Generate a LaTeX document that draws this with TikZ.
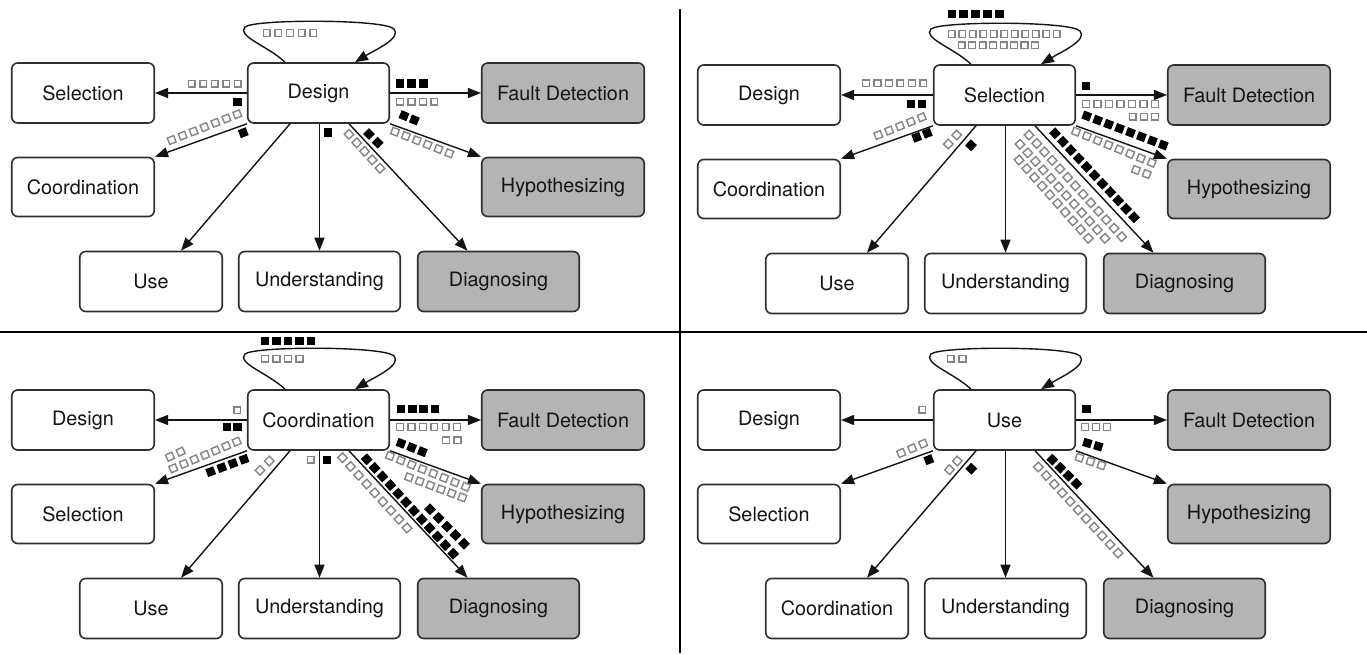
\documentclass[tikz,border=0pt]{standalone}
\usepackage{fontspec}
\setmainfont{TeX Gyre Heros}
\usetikzlibrary{arrows.meta}
\definecolor{boxgray}{HTML}{B4B4B4}
\definecolor{boxline}{HTML}{2E2E2E}
\definecolor{sqgray}{HTML}{858585}
\definecolor{txt}{HTML}{141414}
\tikzset{
 box/.style={draw=boxline, line width=1.6pt, rounded corners=6pt, fill=white, minimum height=60pt, inner sep=0pt, text=txt, font=\fontsize{19.8}{23}\selectfont},
 gbox/.style={box, fill=boxgray},
 arr/.style={line width=1.4pt, draw=txt, -{Triangle[length=13pt,width=10pt]}},
 hsq/.style={draw=sqgray, line width=1.4pt, scale=3.4},
 fsq/.style={fill=black, scale=4.2},
 divider/.style={line width=2pt, draw=black},
}
\newcommand\sqrow[6]{%
  \pgfmathsetmacro\sqang{atan2(-(#5-#3),#4-#2)}%
  \foreach \i in {1,...,#6}{%
    \pgfmathsetmacro\sqx{#2+(#4-#2)*(\i-1)/(#6-1)}%
    \pgfmathsetmacro\sqy{#3+(#5-#3)*(\i-1)/(#6-1)}%
    \path[shift={(\sqx,\sqy)},rotate=\sqang,#1] (-1,-1) rectangle (1,1);
  }}
\newcommand\sqone[4]{%
  \path[shift={(#2,#3)},rotate=#4,#1] (-1,-1) rectangle (1,1);}
\newcommand\drawpanel[7]{%
\begin{scope}[shift={(#2,#3)}]
 \node[box,minimum width=141.5pt] (#1c) at (318.5,93) {#4};
 \node[box,minimum width=142.5pt] (#1l1) at (83,93) {#5};
 \node[box,minimum width=142.5pt,minimum height=59pt] (#1l2) at (83,187) {#6};
 \node[box,minimum width=142.5pt] (#1b1) at (151,281.5) {#7};
 \node[box,minimum width=161.5pt] (#1b2) at (319.5,281.5) {Understanding};
 \node[gbox,minimum width=161.5pt] (#1b3) at (498.5,281.5) {Diagnosing};
 \node[gbox,minimum width=162.5pt] (#1r1) at (563,93) {Fault Detection};
 \node[gbox,minimum width=162.5pt,minimum height=59pt] (#1r2) at (563,187) {Hypothesizing};
 \draw[arr] (#1c.west) -- (#1l1.east);
 \draw[arr] (#1c.south west) -- (#1l2.north east);
 \draw[arr] ([xshift=-28.5pt]#1c.south) -- ([xshift=30pt]#1b1.north);
 \draw[arr] ([xshift=1pt]#1c.south) -- (#1b2.north);
 \draw[arr] ([xshift=30.5pt]#1c.south) -- ([xshift=-31pt]#1b3.north);
 \draw[arr] (#1c.south east) -- (#1r2.north west);
 \draw[arr] (#1c.east) -- (#1r1.west);
 \draw[arr] ([xshift=-33.5pt]#1c.north) .. controls (268,46) and (236,36) .. (245,27) .. controls (254,19) and (385,19) .. (394,29) .. controls (402,38) and (375,50) .. ([xshift=36.5pt]#1c.north);
\end{scope}}
\begin{document}
\begin{tikzpicture}[x=1pt,y=-1pt]
\fill[white] (0,0) rectangle (1367,653);
\useasboundingbox (0,0) rectangle (1367,653);
\drawpanel{a}{0}{0}{Design}{Selection}{Coordination}{Use}
\drawpanel{b}{686}{2}{Selection}{Design}{Coordination}{Use}
\drawpanel{c}{0}{327}{Coordination}{Design}{Selection}{Use}
\drawpanel{d}{686}{327}{Use}{Design}{Selection}{Coordination}
% TL markers
\sqrow{hsq}{266.7}{33}{313.3}{33}{5}
\sqrow{hsq}{191.7}{83.7}{237.7}{83.7}{5}
\sqone{fsq}{237.3}{101.7}{0}
\sqrow{hsq}{171.7}{140}{237.3}{114.3}{7}
\sqone{fsq}{243.3}{132.7}{21}
\sqone{fsq}{327.7}{132.3}{0}
\sqrow{hsq}{349}{134.3}{380}{168.3}{5}
\sqrow{fsq}{369}{134}{377.7}{142.7}{2}
\sqrow{fsq}{404}{115.7}{414.3}{120}{2}
\sqrow{hsq}{395}{131.7}{449.3}{153.3}{6}
\sqrow{fsq}{400}{83.3}{423.3}{83.3}{3}
\sqrow{hsq}{400}{101.7}{434.3}{101.7}{4}
% TR markers
\sqrow{fsq}{951.7}{14}{999.3}{14}{5}
\sqrow{hsq}{951.7}{34}{1056.7}{34}{11}
\sqrow{hsq}{961.7}{45.3}{1035}{45.3}{8}
\sqrow{hsq}{866}{83.3}{923.3}{83.3}{6}
\sqrow{fsq}{910.7}{104}{922}{104}{2}
\sqrow{hsq}{878.3}{135}{921.7}{117.3}{5}
\sqrow{fsq}{916.7}{137.3}{927.3}{133.3}{2}
\sqrow{hsq}{948.3}{144}{956.7}{135}{2}
\sqone{fsq}{971}{145.3}{47}
\sqrow{hsq}{1029}{135}{1121.7}{236.7}{13}
\sqrow{hsq}{1020}{144.3}{1105}{238.3}{12}
\sqrow{hsq}{1019}{160}{1088.3}{238.3}{10}
\sqrow{fsq}{1055}{133.3}{1134}{217.3}{11}
\sqrow{fsq}{1086.7}{116}{1163.3}{145}{8}
\sqrow{hsq}{1076}{131.7}{1151.7}{162.7}{8}
\sqrow{hsq}{1136}{170}{1146.7}{174}{2}
\sqone{fsq}{1086}{86}{0}
\sqrow{hsq}{1086}{104}{1155}{104}{7}
\sqrow{hsq}{1132.7}{116.7}{1155}{116.7}{3}
% BL markers
\sqrow{fsq}{265}{341}{311}{341}{5}
\sqrow{hsq}{265}{358.7}{299.5}{358.7}{4}
\sqone{hsq}{237.3}{410.3}{0}
\sqrow{fsq}{226.7}{427}{237.3}{427}{2}
\sqrow{hsq}{173.3}{468.3}{236.7}{441.7}{7}
\sqrow{hsq}{170}{456.7}{180.7}{451.7}{2}
\sqrow{fsq}{210.7}{471.7}{244}{459.3}{4}
\sqrow{hsq}{260}{470.3}{269.3}{461}{2}
\sqone{hsq}{310.7}{459.7}{0}
\sqone{fsq}{326.7}{459.7}{0}
\sqrow{hsq}{342.5}{457.7}{407}{528}{9}
\sqrow{fsq}{366.7}{459.3}{453.2}{553.7}{12}
\sqrow{fsq}{430}{509.3}{464}{543.7}{5}
\sqrow{fsq}{401}{443.3}{422.3}{451.7}{3}
\sqrow{hsq}{390}{456}{465.7}{486.7}{8}
\sqrow{hsq}{409}{477.3}{462.3}{497.3}{6}
\sqrow{fsq}{401}{408.7}{435}{408.7}{4}
\sqrow{hsq}{400}{427}{457}{427}{6}
\sqrow{hsq}{446}{440.3}{457.5}{440.3}{2}
% BR markers
\sqrow{hsq}{950.7}{358.7}{962.5}{358.7}{2}
\sqone{hsq}{922.2}{409.7}{0}
\sqrow{hsq}{901.2}{453}{923.1}{443.7}{3}
\sqone{fsq}{928.8}{459.7}{21}
\sqrow{hsq}{949.4}{469.7}{957.3}{461}{2}
\sqone{fsq}{971.3}{468.7}{47}
\sqrow{hsq}{1038.3}{467}{1118}{553}{11}
\sqrow{fsq}{1052.3}{459.7}{1076.4}{483.7}{4}
\sqrow{fsq}{1087.3}{443}{1098.3}{446.3}{2}
\sqrow{hsq}{1079.5}{457.7}{1101.4}{465.3}{3}
\sqone{fsq}{1086.5}{408.7}{0}
\sqrow{hsq}{1085}{427}{1107}{427}{3}
% dividers
\draw[divider] (680,9) -- (680,653);
\draw[divider] (0,332) -- (1367,332);
\end{tikzpicture}
\end{document}
